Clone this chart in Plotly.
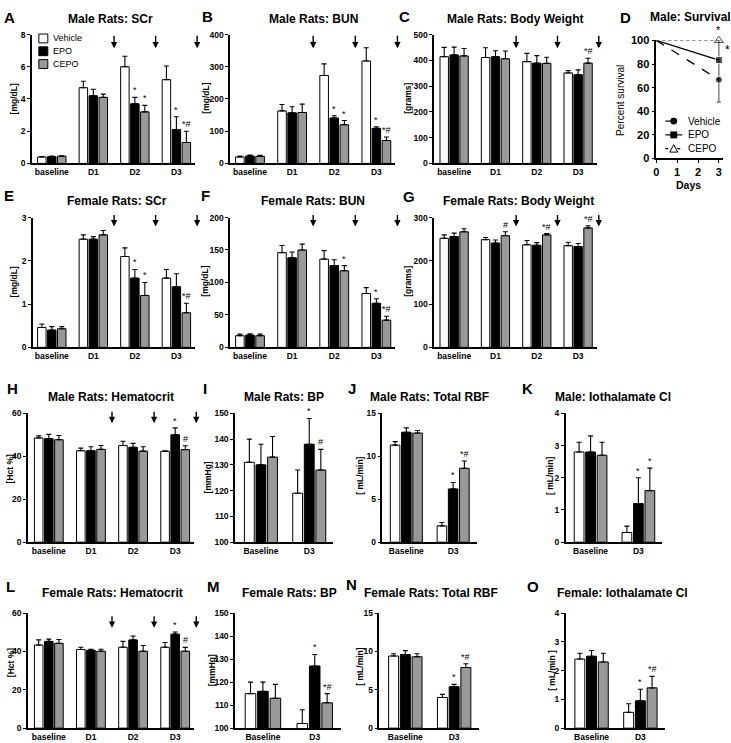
import plotly.graph_objects as go

W, H = 731, 743
FONT = "Liberation Sans, Arial, sans-serif"

treatments = ["Vehicle", "EPO", "CEPO"]
fills = ["#ffffff", "#000000", "#999999"]
days4 = ["baseline", "D1", "D2", "D3"]
days2 = ["Baseline", "D3"]

# means per treatment (Vehicle, EPO, CEPO) and SEM (upper error bar)
male_scr_mean = [[0.40, 4.7, 6.0, 5.2], [0.42, 4.2, 3.7, 2.1], [0.45, 4.1, 3.2, 1.3]]
male_scr_sem = [[0.03, 0.4, 0.65, 0.85], [0.03, 0.4, 0.4, 0.8], [0.03, 0.2, 0.4, 0.7]]
male_bun_mean = [[20, 163, 273, 318], [23, 157, 141, 109], [22, 158, 120, 71]]
male_bun_sem = [[3, 20, 36, 41], [3, 19, 7, 5], [3, 26, 13, 11]]
male_bw_mean = [[414, 411, 395, 351], [421, 414, 389, 344], [417, 406, 388, 389]]
male_bw_sem = [[36, 38, 32, 9], [30, 23, 29, 19], [29, 30, 24, 19]]

female_scr_mean = [[0.46, 2.5, 2.1, 1.6], [0.40, 2.5, 1.6, 1.4], [0.43, 2.6, 1.2, 0.8]]
female_scr_sem = [[0.08, 0.1, 0.2, 0.2], [0.08, 0.06, 0.2, 0.3], [0.05, 0.1, 0.3, 0.22]]
female_bun_mean = [[18, 146, 136, 83], [19, 138, 126, 68], [18, 150, 118, 42]]
female_bun_sem = [[2.5, 11, 13, 9], [2, 9, 9, 7], [2.5, 9, 8, 6]]
female_bw_mean = [[252, 249, 237, 235], [256, 241, 236, 233], [267, 258, 260, 276]]
female_bw_sem = [[8, 5, 10, 8], [8, 7, 6, 7], [7, 9, 3, 5]]

male_hct_mean = [[48.5, 42.6, 45.0, 42.3], [48.2, 42.6, 44.2, 50.0], [47.7, 43.2, 42.4, 43.1]]
male_hct_sem = [[1.0, 1.2, 2.0, 0.3], [2.0, 1.8, 1.8, 3.2], [2.0, 1.8, 2.0, 1.8]]
male_bp_mean = [[131, 119], [130, 138], [133, 128]]
male_bp_sem = [[9, 9], [8, 10], [8, 8]]
male_rbf_mean = [[11.3, 1.9], [12.8, 6.2], [12.7, 8.6]]
male_rbf_sem = [[0.4, 0.4], [0.5, 0.75], [0.3, 0.85]]
male_ioth_mean = [[2.8, 0.3], [2.8, 1.2], [2.7, 1.6]]
male_ioth_sem = [[0.3, 0.2], [0.5, 0.8], [0.4, 0.7]]

female_hct_mean = [[43.3, 41.0, 42.2, 42.2], [45.2, 40.6, 46.0, 49.0], [44.2, 40.1, 40.1, 40.1]]
female_hct_sem = [[2.7, 1.2, 3.0, 2.4], [1.2, 0.5, 2.0, 1.1], [2.0, 1.0, 3.0, 2.0]]
female_bp_mean = [[115, 102], [116, 127], [113, 111]]
female_bp_sem = [[5, 6], [4, 5], [6, 4]]
female_rbf_mean = [[9.4, 4.0], [9.6, 5.4], [9.3, 7.9]]
female_rbf_sem = [[0.3, 0.4], [0.5, 0.3], [0.4, 0.5]]
female_ioth_mean = [[2.4, 0.55], [2.5, 0.95], [2.3, 1.4]]
female_ioth_sem = [[0.2, 0.3], [0.2, 0.4], [0.3, 0.4]]

# male survival (percent)
survival_days = [0, 3]
survival_vehicle = [100, 66.7]
survival_epo = [100, 83.3]
survival_cepo = [100, 100]
# the single grey error line drawn at day 3 (from ~47 % up to 100 %)
survival_err_up = [0, 33.3]
survival_err_down = [0, 19]

# significance marks: (day index, treatment index, label)
male_scr_sig = [(2, 1, "*"), (2, 2, "*"), (3, 1, "*"), (3, 2, "*#")]
male_bun_sig = [(2, 1, "*"), (2, 2, "*"), (3, 1, "*"), (3, 2, "*#")]
male_bw_sig = [(3, 2, "*#")]
female_scr_sig = [(2, 1, "*"), (2, 2, "*"), (3, 2, "*#")]
female_bun_sig = [(2, 2, "*"), (3, 1, "*"), (3, 2, "*#")]
female_bw_sig = [(1, 2, "#"), (2, 2, "*#"), (3, 2, "*#")]
male_hct_sig = [(3, 1, "*"), (3, 2, "#")]
male_bp_sig = [(1, 1, "*"), (1, 2, "#")]
male_rbf_sig = [(1, 1, "*"), (1, 2, "*#")]
male_ioth_sig = [(1, 1, "*"), (1, 2, "*")]
female_hct_sig = [(3, 1, "*"), (3, 2, "#")]
female_bp_sig = [(1, 1, "*"), (1, 2, "*#")]
female_rbf_sig = [(1, 1, "*"), (1, 2, "*#")]
female_ioth_sig = [(1, 1, "*"), (1, 2, "*#")]

# EPO/CEPO dosing times, between day groups
dose_positions = [1.5, 2.5, 3.5]

# layout of every bar panel, in pixels of the 731x743 page
# box = (axis left, first category centre, category step, top, bottom, last x in category units)
bar_panels = [
    dict(n=1, letter="A", title="Male Rats: SCr", ytitle="[mg/dL]", cats=days4,
         mean=male_scr_mean, sem=male_scr_sem, sig=male_scr_sig, yrange=[0, 8], dtick=2,
         box=(29, 49, 41.7, 29, 160, 3.45), letter_xy=(7, 12), title_xy=(108, 13),
         ytitle_xy=(12, 94), arrows=(29, 43)),
    dict(n=2, letter="B", title="Male Rats: BUN", ytitle="[mg/dL]", cats=days4,
         mean=male_bun_mean, sem=male_bun_sem, sig=male_bun_sig, yrange=[0, 400], dtick=100,
         box=(228, 248, 42.3, 29, 160, 3.45), letter_xy=(205, 11), title_xy=(312, 13),
         ytitle_xy=(204, 94), arrows=(29, 43)),
    dict(n=3, letter="C", title="Male Rats: Body Weight", ytitle="[grams]", cats=days4,
         mean=male_bw_mean, sem=male_bw_sem, sig=male_bw_sig, yrange=[0, 500], dtick=100,
         box=(433, 453, 41.5, 29, 160, 3.45), letter_xy=(403, 11), title_xy=(514, 13),
         ytitle_xy=(407, 94), arrows=(29, 43)),
    dict(n=5, letter="E", title="Female Rats: SCr", ytitle="[mg/dL]", cats=days4,
         mean=female_scr_mean, sem=female_scr_sem, sig=female_scr_sig, yrange=[0, 3], dtick=1,
         box=(30, 49, 41.7, 215, 347, 3.45), letter_xy=(6, 193), title_xy=(114, 198),
         ytitle_xy=(12, 280), arrows=(211, 224)),
    dict(n=6, letter="F", title="Female Rats: BUN", ytitle="[mg/dL]", cats=days4,
         mean=female_bun_mean, sem=female_bun_sem, sig=female_bun_sig, yrange=[0, 200], dtick=50,
         box=(228, 248, 42.3, 215, 347, 3.45), letter_xy=(203, 193), title_xy=(311, 198),
         ytitle_xy=(203, 280), arrows=(211, 224)),
    dict(n=7, letter="G", title="Female Rats: Body Weight", ytitle="[grams]", cats=days4,
         mean=female_bw_mean, sem=female_bw_sem, sig=female_bw_sig, yrange=[0, 300], dtick=100,
         box=(433, 453, 41.5, 215, 347, 3.45), letter_xy=(408, 194), title_xy=(518, 198),
         ytitle_xy=(407, 280), arrows=(211, 224)),
    dict(n=8, letter="H", title="Male Rats: Hematocrit", ytitle="[Hct %]", cats=days4,
         mean=male_hct_mean, sem=male_hct_sem, sig=male_hct_sig, yrange=[0, 60], dtick=20,
         box=(25, 46, 42.3, 414, 545, 3.45), letter_xy=(10, 389), title_xy=(108, 397),
         ytitle_xy=(7, 470), arrows=(411, 424)),
    dict(n=9, letter="I", title="Male Rats: BP", ytitle="[mmHg]", cats=days2,
         mean=male_bp_mean, sem=male_bp_sem, sig=male_bp_sig, yrange=[100, 150], dtick=10,
         box=(233, 259, 48.5, 414, 545, 1.5), letter_xy=(203, 389), title_xy=(282, 397),
         ytitle_xy=(206, 479), arrows=None),
    dict(n=10, letter="J", title="Male Rats: Total RBF", ytitle="[ mL/min]", cats=days2,
         mean=male_rbf_mean, sem=male_rbf_sem, sig=male_rbf_sig, yrange=[0, 15], dtick=5,
         box=(381, 405, 47, 414, 545, 1.5), letter_xy=(350, 389), title_xy=(428, 397),
         ytitle_xy=(359, 478), arrows=None),
    dict(n=11, letter="K", title="Male: Iothalamate Cl", ytitle="[ mL/min]", cats=days2,
         mean=male_ioth_mean, sem=male_ioth_sem, sig=male_ioth_sig, yrange=[0, 4], dtick=1,
         box=(565, 590, 48, 414, 545, 1.5), letter_xy=(527, 389), title_xy=(613, 397),
         ytitle_xy=(550, 478), arrows=None),
    dict(n=12, letter="L", title="Female Rats: Hematocrit", ytitle="[Hct %]", cats=days4,
         mean=female_hct_mean, sem=female_hct_sem, sig=female_hct_sig, yrange=[0, 60], dtick=20,
         box=(25, 46, 42.3, 617, 734, 3.45), letter_xy=(8, 590), title_xy=(110, 597),
         ytitle_xy=(8, 667), arrows=(619, 632)),
    dict(n=13, letter="M", title="Female Rats: BP", ytitle="[mmHg]", cats=days2,
         mean=female_bp_mean, sem=female_bp_sem, sig=female_bp_sig, yrange=[100, 150], dtick=10,
         box=(233, 261, 52, 617, 734, 1.5), letter_xy=(211, 590), title_xy=(288, 597),
         ytitle_xy=(210, 675), arrows=None),
    dict(n=14, letter="N", title="Female Rats: Total RBF", ytitle="[ mL/min]", cats=days2,
         mean=female_rbf_mean, sem=female_rbf_sem, sig=female_rbf_sig, yrange=[0, 15], dtick=5,
         box=(378, 404, 49, 617, 734, 1.5), letter_xy=(350, 588), title_xy=(430, 597),
         ytitle_xy=(359, 672), arrows=None),
    dict(n=15, letter="O", title="Female: Iothalamate Cl", ytitle="[ mL/min ]", cats=days2,
         mean=female_ioth_mean, sem=female_ioth_sem, sig=female_ioth_sig, yrange=[0, 4], dtick=1,
         box=(565, 591, 49, 617, 734, 1.5), letter_xy=(532, 590), title_xy=(622, 597),
         ytitle_xy=(551, 675), arrows=None),
]

BAR_SLOT = 0.24  # centre-to-centre distance of bars inside a group (category units)


def axis_names(n):
    s = "" if n == 1 else str(n)
    return "x" + s, "y" + s, "xaxis" + s, "yaxis" + s


def px_x(px):
    return px / W


def px_y(py):
    return 1 - py / H


annotations = []
shapes = []
layout_axes = {}


def text_at(text, px, py, size, bold=True, angle=0, xanchor="center"):
    annotations.append(dict(
        text=f"<b>{text}</b>" if bold else text,
        x=px_x(px), y=px_y(py), xref="paper", yref="paper",
        xanchor=xanchor, yanchor="middle", showarrow=False, textangle=angle,
        font=dict(family=FONT, size=size, color="black"),
    ))


fig = go.Figure()

for p in bar_panels:
    xr, yr, xa, ya = axis_names(p["n"])
    left, c0, step, top, bottom, xend = p["box"]
    for k, name in enumerate(treatments):
        fig.add_trace(go.Bar(
            x=p["cats"], y=p["mean"][k], name=name, showlegend=False,
            xaxis=xr, yaxis=yr,
            marker=dict(color=fills[k], line=dict(color="black", width=1)),
            error_y=dict(type="data", symmetric=False, array=p["sem"][k],
                         arrayminus=[0] * len(p["cats"]), color="black",
                         thickness=1.1, width=2.5),
        ))
    layout_axes[xa] = dict(
        domain=[px_x(left), px_x(c0 + xend * step)], anchor=yr, type="category",
        categoryorder="array", categoryarray=p["cats"],
        range=[(left - c0) / step, xend], showline=True, linecolor="black", linewidth=1.5,
        ticks="", showgrid=False, zeroline=False, fixedrange=True,
        tickfont=dict(family=FONT, size=8.5, color="black", weight="bold"),
    )
    layout_axes[ya] = dict(
        domain=[px_y(bottom), px_y(top)], anchor=xr, range=p["yrange"],
        tick0=p["yrange"][0], dtick=p["dtick"], ticks="outside", ticklen=3, tickwidth=1.3,
        tickcolor="black", showline=True, linecolor="black", linewidth=1.5,
        showgrid=False, zeroline=False, fixedrange=True,
        tickfont=dict(family=FONT, size=8.5, color="black", weight="bold"),
    )
    for gi, tk, mark in p["sig"]:
        annotations.append(dict(
            text=mark, x=gi + (tk - 1) * BAR_SLOT, y=p["mean"][tk][gi] + p["sem"][tk][gi],
            xref=xr, yref=yr, xanchor="center", yanchor="bottom", showarrow=False,
            font=dict(family=FONT, size=9, color="black"),
        ))
    if p["arrows"]:
        tail, head = p["arrows"]
        for pos in dose_positions:
            annotations.append(dict(
                text="", x=px_x(c0 + pos * step), y=px_y(head), xref="paper", yref="paper",
                ax=0, ay=-(head - tail), showarrow=True, arrowhead=2, arrowsize=0.9,
                arrowwidth=1.4, arrowcolor="black",
            ))
    text_at(p["letter"], *p["letter_xy"], 15)
    text_at(p["title"], *p["title_xy"], 12)
    text_at(p["ytitle"], *p["ytitle_xy"], 8.5, angle=-90)

# panel D: survival. The vehicle line with the grey error line goes first,
# so that every marker is painted on top of it.
fig.add_trace(go.Scatter(
    x=survival_days, y=survival_vehicle, mode="lines", name="Vehicle", showlegend=False,
    xaxis="x4", yaxis="y4", cliponaxis=False,
    line=dict(color="black", width=1.3, dash="dash"),
    error_y=dict(type="data", symmetric=False, array=survival_err_up,
                 arrayminus=survival_err_down, color="#666666", thickness=1.2, width=2),
))
fig.add_trace(go.Scatter(
    x=survival_days, y=survival_vehicle, mode="markers", name="Vehicle", showlegend=False,
    xaxis="x4", yaxis="y4", cliponaxis=False,
    marker=dict(symbol="circle", size=[0, 7], color="black"),
))
fig.add_trace(go.Scatter(
    x=survival_days, y=survival_epo, mode="lines+markers", name="EPO", showlegend=False,
    xaxis="x4", yaxis="y4", cliponaxis=False,
    line=dict(color="black", width=1.3),
    marker=dict(symbol="square", size=[0, 7], color="black"),
))
fig.add_trace(go.Scatter(
    x=survival_days, y=survival_cepo, mode="lines+markers", name="CEPO", showlegend=False,
    xaxis="x4", yaxis="y4", cliponaxis=False,
    line=dict(color="black", width=1, dash="dot"),
    marker=dict(symbol="triangle-up-open", size=[0, 8], color="black", line=dict(width=1)),
))
layout_axes["xaxis4"] = dict(
    domain=[px_x(656), px_x(723)], anchor="y4", range=[0, 3.2], dtick=1, ticks="outside",
    ticklen=3, tickwidth=1.3, tickcolor="black", showline=True, linecolor="black", linewidth=1.5,
    showgrid=False, zeroline=False, fixedrange=True,
    tickfont=dict(family=FONT, size=11, color="black", weight="bold"),
)
layout_axes["yaxis4"] = dict(
    domain=[px_y(155), px_y(35)], anchor="x4", range=[0, 100], dtick=20, ticks="outside",
    ticklen=3, tickwidth=1.3, tickcolor="black", showline=True, linecolor="black", linewidth=1.5,
    showgrid=False, zeroline=False, fixedrange=True,
    tickfont=dict(family=FONT, size=11, color="black", weight="bold"),
)
annotations.append(dict(text="*", x=3, y=survival_cepo[1], xref="x4", yref="y4", yanchor="bottom",
                        yshift=2, showarrow=False, font=dict(family=FONT, size=11, color="black")))
annotations.append(dict(text="*", x=3, y=survival_epo[1], xref="x4", yref="y4", xanchor="left",
                        yanchor="bottom", xshift=4, yshift=1, showarrow=False,
                        font=dict(family=FONT, size=12, color="black")))
text_at("D", 625, 12, 15)
text_at("Male: Survival", 690, 11, 12)
text_at("Percent survival", 620, 96, 10, bold=False, angle=-90)
text_at("Days", 688, 182, 10.5)

# legend of panel A
for k, name in enumerate(treatments):
    cy = 33 + 13 * k
    shapes.append(dict(type="rect", xref="paper", yref="paper",
                       x0=px_x(36), x1=px_x(45), y0=px_y(cy + 4.5), y1=px_y(cy - 4.5),
                       fillcolor=fills[k], line=dict(color="black", width=1)))
    text_at(name, 48, cy, 9, bold=False, xanchor="left")

# legend of panel D
dashes = ["dash", "solid", "dot"]
for k, name in enumerate(treatments):
    cy = 117 + 14 * k
    shapes.append(dict(type="line", xref="paper", yref="paper", x0=px_x(665), x1=px_x(682),
                       y0=px_y(cy), y1=px_y(cy), line=dict(color="black", width=1.2, dash=dashes[k])))
    text_at(name, 686, cy, 10, bold=False, xanchor="left")
cx = 673.5
shapes.append(dict(type="circle", xref="paper", yref="paper", x0=px_x(cx - 3.5), x1=px_x(cx + 3.5),
                   y0=px_y(117 + 3.5), y1=px_y(117 - 3.5), fillcolor="black", line=dict(width=0)))
shapes.append(dict(type="rect", xref="paper", yref="paper", x0=px_x(cx - 3.5), x1=px_x(cx + 3.5),
                   y0=px_y(131 + 3.5), y1=px_y(131 - 3.5), fillcolor="black", line=dict(width=0)))
tri = "M {:.5f},{:.5f} L {:.5f},{:.5f} L {:.5f},{:.5f} Z".format(
    px_x(cx - 4), px_y(145 + 3.5), px_x(cx + 4), px_y(145 + 3.5), px_x(cx), px_y(145 - 4))
shapes.append(dict(type="path", xref="paper", yref="paper", path=tri, fillcolor="white",
                   line=dict(color="black", width=1)))

fig.update_layout(
    width=W, height=H, margin=dict(l=0, r=0, t=0, b=0),
    paper_bgcolor="white", plot_bgcolor="white",
    barmode="group", bargap=0.28, bargroupgap=0.15,
    font=dict(family=FONT, color="black"),
    showlegend=False,
    annotations=annotations, shapes=shapes,
    **layout_axes,
)

# the page's default 8px body margin would push the 731x743 figure past the window
fig.write_html("out.html", config={"displayModeBar": False},
               post_script="document.body.style.margin = '0';")
